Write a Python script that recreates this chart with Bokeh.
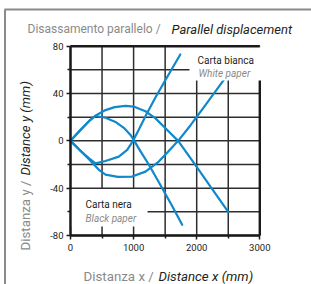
from bokeh.plotting import figure
from bokeh.models import Range1d, FixedTicker, Label, LinearAxis
from bokeh.embed import file_html
from bokeh.resources import INLINE

# ---- data ----
x_major_ticks = [0, 1000, 2000, 3000]
x_tick_labels = ["0", "1000", "2000", "3000"]
x_minor_ticks = [500, 1500, 2500]
y_major_ticks = [-80, -40, 0, 40, 80]
y_tick_labels = ["-80", "-40", "0", "40", "80"]
y_minor_ticks = [-60, -20, 20, 60]
grid_x = [0, 500, 1000, 1500, 2000, 2500, 3000]
grid_y = [-80, -60, -40, -20, 0, 20, 40, 60, 80]

white_upper_x = [0, 150, 300, 400, 555, 700, 872, 1000, 1188, 1347, 1505, 1706, 2000, 2218, 2500]
white_upper_y = [0, 9, 17, 21.5, 26, 28.5, 29.6, 29, 25, 19, 10.6, 0, -22, -38.6, -60]
white_lower_x = [0, 150, 300, 450, 555, 750, 977, 1188, 1399, 1550, 1706, 1900, 2100, 2300, 2450]
white_lower_y = [0, -8, -16, -24.5, -28.5, -30.5, -30.2, -26, -17.5, -9, 0, 13, 27.5, 42, 53]
black_upper_x = [0, 150, 300, 396, 555, 713, 845, 951, 1000, 1100, 1240, 1400, 1600, 1770]
black_upper_y = [0, 8.5, 17, 21, 19.5, 16, 11, 5, 1, -8, -20, -35, -54, -71]
black_lower_x = [0, 150, 300, 396, 555, 766, 898, 960, 1000, 1082, 1200, 1350, 1500, 1740]
black_lower_y = [0, -8, -15, -19, -17, -13.3, -7.6, -2.5, 1, 9.3, 22, 37, 51, 73]

title_it = "Disassamento parallelo /"
title_en = "Parallel displacement"
xlab_it = "Distanza x /"
xlab_en = "Distance x (mm)"
ylab_it = "Distanza y /"
ylab_en = "Distance y (mm)"
white_it, white_en = "Carta bianca", "White paper"
black_it, black_en = "Carta nera", "Black paper"

# ---- layout / style ----
FONT = "Roboto"
BLUE = "#1088cc"
GRAY = "#8a8a8a"
DARK = "#231f20"
GRID = "#2e2e2e"
FRAME = "#1a1a1a"

W, H = 311, 284
CH_LEFT, CH_RIGHT = 70.0, 259.3     # page px of the chart's x extent
CH_TOP, CH_BOTTOM = 45.7, 235.0     # page px of the chart's y extent
X0, X1 = x_major_ticks[0], x_major_ticks[-1]
Y0, Y1 = y_major_ticks[0], y_major_ticks[-1]
kx = (CH_RIGHT - CH_LEFT) / (X1 - X0)
ky = (CH_BOTTOM - CH_TOP) / (Y1 - Y0)


def dx(px):
    return X0 + (px - CH_LEFT) / kx


def dy(py):
    return Y0 + (CH_BOTTOM - py) / ky


p = figure(width=W, height=H,
           x_range=Range1d(dx(0), dx(W)), y_range=Range1d(dy(H), dy(0)),
           x_axis_type=None, y_axis_type=None,
           output_backend="svg", toolbar_location=None, min_border=0)
p.outline_line_color = None
p.background_fill_color = "white"
p.border_fill_color = "white"

# outer light frame (top and left)
p.segment(x0=[dx(4), dx(4.5)], y0=[dy(9), dy(9)], x1=[dx(W), dx(4.5)], y1=[dy(9), dy(H)],
          line_color=GRAY, line_width=2)

# grid
p.segment(x0=grid_x, y0=[Y0] * len(grid_x), x1=grid_x, y1=[Y1] * len(grid_x),
          line_color=GRID, line_width=1.5)
p.segment(x0=[X0] * len(grid_y), y0=grid_y, x1=[X1] * len(grid_y), y1=grid_y,
          line_color=GRID, line_width=1.5)
# right frame edge
p.segment(x0=[X1], y0=[Y0], x1=[X1], y1=[Y1], line_color=FRAME, line_width=2.4)

for xs, ys in ((white_upper_x, white_upper_y), (white_lower_x, white_lower_y),
               (black_upper_x, black_upper_y), (black_lower_x, black_lower_y)):
    p.line(xs, ys, line_color=BLUE, line_width=2.2, line_join="round", line_cap="round")

# legend boxes
p.quad(left=[dx(189)], right=[dx(CH_RIGHT + 2)], bottom=[dy(80)], top=[Y1],
       fill_color="white", line_color=None)
p.quad(left=[X0], right=[dx(147)], bottom=[dy(226)], top=[dy(188.6)],
       fill_color="white", line_color=None)

# top frame edge
p.segment(x0=[X0], y0=[Y1], x1=[X1], y1=[Y1], line_color=FRAME, line_width=2.4)

xax = LinearAxis(fixed_location=Y0, bounds=(X0, X1),
                 ticker=FixedTicker(ticks=x_major_ticks, minor_ticks=x_minor_ticks),
                 major_label_overrides={t: l for t, l in zip(x_major_ticks, x_tick_labels)})
yax = LinearAxis(fixed_location=X0, bounds=(Y0, Y1),
                 ticker=FixedTicker(ticks=y_major_ticks, minor_ticks=y_minor_ticks),
                 major_label_overrides={t: l for t, l in zip(y_major_ticks, y_tick_labels)})
for ax in (xax, yax):
    ax.axis_line_width = 2.4
    ax.axis_line_color = FRAME
    ax.major_tick_line_color = FRAME
    ax.minor_tick_line_color = FRAME
    ax.major_tick_line_width = 1.5
    ax.minor_tick_line_width = 1.5
    ax.major_tick_in = 0
    ax.major_tick_out = 4
    ax.minor_tick_in = 0
    ax.minor_tick_out = 3
    ax.major_label_text_font = FONT
    ax.major_label_text_font_size = "9.5px"
    ax.major_label_text_color = DARK
xax.major_label_standoff = 4
yax.major_label_standoff = 3
p.add_layout(xax, "below")
p.add_layout(yax, "left")


def lab(text, rx, ry, size, color, style="normal", align="left", angle=0.0):
    # rx, ry: page pixel position of the text anchor (baseline)
    p.add_layout(Label(x=rx, y=H - ry, x_units="screen", y_units="screen", text=text,
                       text_font=FONT, text_font_size=size, text_color=color,
                       text_font_style=style, text_align=align, text_baseline="alphabetic",
                       angle=angle))


lab(title_it, 27, 28.5, "12px", GRAY)
lab(title_en, 171, 28.5, "13px", DARK, style="italic")
lab(xlab_it, 83, 275.5, "13.3px", GRAY)
lab(xlab_en, 158, 275.5, "13.3px", DARK, style="italic")
lab(ylab_it, 25, 250, "13.3px", GRAY, angle=1.5708)
lab(ylab_en, 25, 175, "13.3px", DARK, style="italic", angle=1.5708)
lab(white_it, 197, 60, "10px", DARK)
lab(white_en, 198, 73.3, "10px", GRAY, style="italic")
lab(black_it, 85, 204.3, "10px", DARK)
lab(black_en, 85, 218.3, "10px", GRAY, style="italic")

open("out.html", "w").write(file_html(p, INLINE))
